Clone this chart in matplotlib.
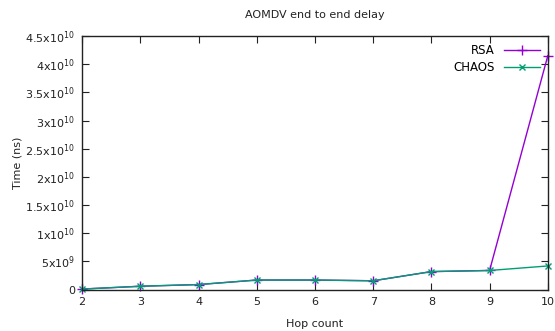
import matplotlib
matplotlib.use('Agg')
import matplotlib.pyplot as plt

hops = [2, 3, 4, 5, 6, 7, 8, 9, 10]
rsa = [0.1e9, 0.6e9, 0.9e9, 1.7e9, 1.7e9, 1.57e9, 3.2e9, 3.4e9, 41.5e9]
chaos = [0.1e9, 0.6e9, 0.9e9, 1.7e9, 1.7e9, 1.57e9, 3.2e9, 3.4e9, 4.2e9]
yticks = [0, 5e9, 1e10, 1.5e10, 2e10, 2.5e10, 3e10, 3.5e10, 4e10, 4.5e10]
ylabels = ['0', r'5x10$^{9}$', r'1x10$^{10}$', r'1.5x10$^{10}$', r'2x10$^{10}$',
           r'2.5x10$^{10}$', r'3x10$^{10}$', r'3.5x10$^{10}$', r'4x10$^{10}$', r'4.5x10$^{10}$']

plt.rcParams['font.size'] = 8
plt.rcParams['mathtext.default'] = 'regular'

fig = plt.figure(figsize=(5.55, 3.31), dpi=100)
ax = fig.add_axes([0.148, 0.125, 0.839, 0.766])

ax.plot(hops, rsa, color='#9400d3', marker='+', markersize=7, linewidth=1,
        label='RSA', clip_on=False)
ax.plot(hops, chaos, color='#009e73', marker='x', markersize=5, linewidth=1,
        label='CHAOS', clip_on=False)

ax.set_xlim(2, 10)
ax.set_ylim(0, 4.5e10)
ax.set_yticks(yticks)
ax.set_yticklabels(ylabels)
ax.tick_params(direction='in', top=True, right=True, length=5, width=0.8,
               colors='#222222', pad=5)
for s in ax.spines.values():
    s.set_color('#222222')
    s.set_linewidth(1)

ax.set_xlabel('Hop count', color='#222222', labelpad=9)
ax.set_ylabel('Time (ns)', color='#222222', labelpad=2)
ax.set_title('AOMDV end to end delay', fontsize=8, color='#222222', pad=13)

ax.legend(loc='upper right', frameon=False, markerfirst=False, handlelength=3,
          borderaxespad=0.3, labelspacing=0.3, fontsize=8.5)

fig.savefig('out.png', dpi=100)
